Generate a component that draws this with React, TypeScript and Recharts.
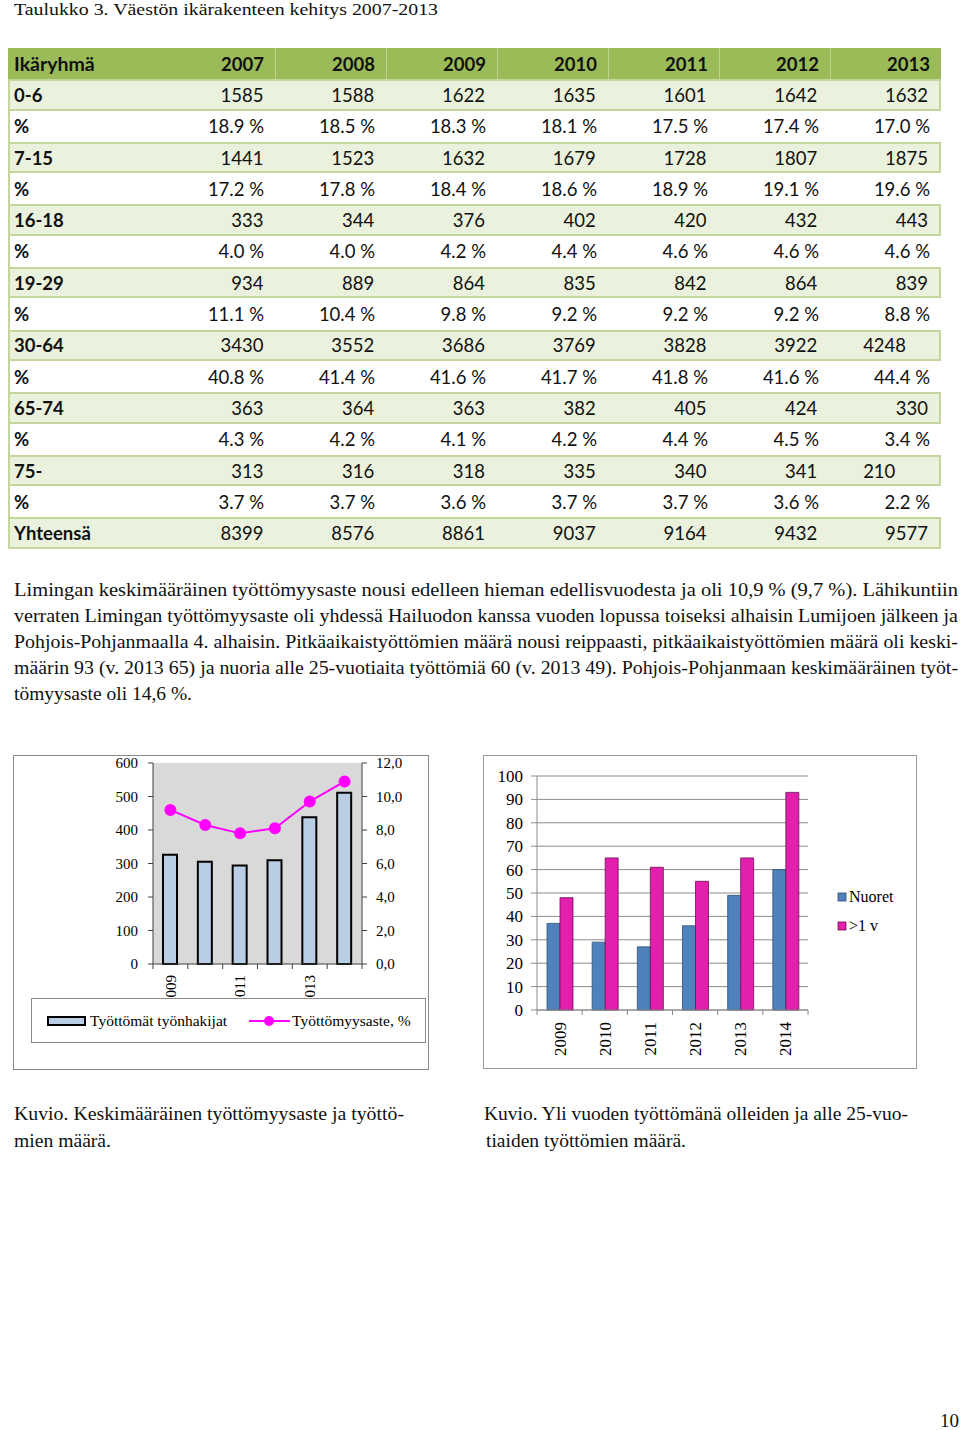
import React from 'react';
import { ComposedChart, BarChart, Bar, Line, XAxis, YAxis, CartesianGrid } from 'recharts';

// --- Taulukko 3 data ---
const TABLE_YEARS = ['2007', '2008', '2009', '2010', '2011', '2012', '2013'];
const AGE_GROUPS = ['0-6', '7-15', '16-18', '19-29', '30-64', '65-74', '75-'];
const COUNTS_0_6 = [1585, 1588, 1622, 1635, 1601, 1642, 1632];
const SHARE_0_6 = [18.9, 18.5, 18.3, 18.1, 17.5, 17.4, 17.0];
const COUNTS_7_15 = [1441, 1523, 1632, 1679, 1728, 1807, 1875];
const SHARE_7_15 = [17.2, 17.8, 18.4, 18.6, 18.9, 19.1, 19.6];
const COUNTS_16_18 = [333, 344, 376, 402, 420, 432, 443];
const SHARE_16_18 = [4.0, 4.0, 4.2, 4.4, 4.6, 4.6, 4.6];
const COUNTS_19_29 = [934, 889, 864, 835, 842, 864, 839];
const SHARE_19_29 = [11.1, 10.4, 9.8, 9.2, 9.2, 9.2, 8.8];
const COUNTS_30_64 = [3430, 3552, 3686, 3769, 3828, 3922, 4248];
const SHARE_30_64 = [40.8, 41.4, 41.6, 41.7, 41.8, 41.6, 44.4];
const COUNTS_65_74 = [363, 364, 363, 382, 405, 424, 330];
const SHARE_65_74 = [4.3, 4.2, 4.1, 4.2, 4.4, 4.5, 3.4];
const COUNTS_75 = [313, 316, 318, 335, 340, 341, 210];
const SHARE_75 = [3.7, 3.7, 3.6, 3.7, 3.7, 3.6, 2.2];
const TOTALS = [8399, 8576, 8861, 9037, 9164, 9432, 9577];

// --- chart 1: työttömät työnhakijat + työttömyysaste ---
const CHART_YEARS = ['2009', '2010', '2011', '2012', '2013', '2014'];
const JOBSEEKERS = [326, 305, 294, 310, 438, 511];
const UNEMPLOYMENT_RATE = [9.2, 8.3, 7.8, 8.1, 9.7, 10.9];

// --- chart 2: nuoret ja yli vuoden työttömät ---
const YOUNG = [37, 29, 27, 36, 49, 60];
const OVER_1Y = [48, 65, 61, 55, 65, 93];

const PARAGRAPH = [
  'Limingan keskimääräinen työttömyysaste nousi edelleen hieman edellisvuodesta ja oli 10,9 % (9,7 %). Lähikuntiin',
  'verraten Limingan työttömyysaste oli yhdessä Hailuodon kanssa vuoden lopussa toiseksi alhaisin Lumijoen jälkeen ja',
  'Pohjois-Pohjanmaalla 4. alhaisin.  Pitkäaikaistyöttömien määrä nousi reippaasti, pitkäaikaistyöttömien määrä oli keski-',
  'määrin 93 (v. 2013 65) ja nuoria alle 25-vuotiaita työttömiä 60 (v. 2013 49).  Pohjois-Pohjanmaan keskimääräinen työt-',
  'tömyysaste oli 14,6 %.',
];

const chart1Data = CHART_YEARS.map((year, i) => ({ year, seekers: JOBSEEKERS[i], rate: UNEMPLOYMENT_RATE[i] }));
const chart2Data = CHART_YEARS.map((year, i) => ({ year, young: YOUNG[i], long: OVER_1Y[i] }));

const SERIF = '"Liberation Serif", "Times New Roman", serif';
const ROW_H = 31.31;

const pct = (v: number) => `${v.toFixed(1)} %`;

type Row = { label: string; values: string[]; shaded: boolean; leftAlignLast?: boolean };

const groupCounts = [COUNTS_0_6, COUNTS_7_15, COUNTS_16_18, COUNTS_19_29, COUNTS_30_64, COUNTS_65_74, COUNTS_75];
const groupShares = [SHARE_0_6, SHARE_7_15, SHARE_16_18, SHARE_19_29, SHARE_30_64, SHARE_65_74, SHARE_75];

const tableRows: Row[] = [];
AGE_GROUPS.forEach((g, i) => {
  tableRows.push({ label: g, values: groupCounts[i].map(String), shaded: true, leftAlignLast: g === '30-64' || g === '75-' });
  tableRows.push({ label: '%', values: groupShares[i].map(pct), shaded: false });
});
tableRows.push({ label: 'Yhteensä', values: TOTALS.map(String), shaded: true });

const PopulationTable = () => (
  <div style={{ position: 'absolute', left: 8, top: 48, width: 933, fontFamily: 'Lato, sans-serif', fontSize: 18.5, color: '#111' }}>
    <div style={{ display: 'flex', height: ROW_H, background: '#9BBB59', fontWeight: 700, alignItems: 'center' }}>
      <div style={{ width: 156, paddingLeft: 6, boxSizing: 'border-box', fontSize: 19.5 }}>Ikäryhmä</div>
      {TABLE_YEARS.map((y, i) => (
        <div key={y} style={{ width: 111, height: '100%', display: 'flex', alignItems: 'center', justifyContent: 'flex-end', paddingRight: 11, boxSizing: 'border-box', borderLeft: i > 0 ? '1px solid rgba(255,255,255,0.35)' : 'none' }}>{y}</div>
      ))}
    </div>
    {tableRows.map((r, ri) => (
      <div key={ri} style={{
        display: 'flex', height: ROW_H, alignItems: 'center', boxSizing: 'border-box',
        background: r.shaded ? '#EAF1DD' : '#fff',
        borderTop: r.shaded ? '2px solid #C3D69B' : 'none',
        borderBottom: r.shaded ? '2px solid #C3D69B' : 'none',
        borderLeft: '2px solid #C3D69B', borderRight: r.shaded ? '2px solid #C3D69B' : 'none',
      }}>
        <div style={{ width: 154, paddingLeft: 4, fontWeight: 700, boxSizing: 'border-box' }}>{r.label}</div>
        {r.values.map((v, ci) => {
          const leftAlign = r.leftAlignLast && ci === 6;
          return (
            <div key={ci} style={{ width: 111, display: 'flex', justifyContent: leftAlign ? 'flex-start' : 'flex-end', paddingRight: 11, paddingLeft: leftAlign ? 35 : 0, boxSizing: 'border-box' }}>{v}</div>
          );
        })}
      </div>
    ))}
  </div>
);

const PageText = () => (
  <svg width={960} height={1430} style={{ position: 'absolute', left: 0, top: 0 }} fontFamily={SERIF} fill="#111">
    <text x={14} y={15} fontSize={17.5} textLength={424} lengthAdjust="spacingAndGlyphs">Taulukko 3.  Väestön ikärakenteen kehitys 2007-2013</text>
    {PARAGRAPH.map((line, i) => (
      <text key={i} x={14} y={596 + i * 26} fontSize={19} textLength={i === PARAGRAPH.length - 1 ? 178 : 944} lengthAdjust="spacingAndGlyphs">{line}</text>
    ))}
    <text x={14} y={1120} fontSize={19} textLength={390} lengthAdjust="spacingAndGlyphs">Kuvio.  Keskimääräinen työttömyysaste ja työttö-</text>
    <text x={14} y={1147} fontSize={19} textLength={97} lengthAdjust="spacingAndGlyphs">mien määrä.</text>
    <text x={484} y={1120} fontSize={19} textLength={424} lengthAdjust="spacingAndGlyphs">Kuvio. Yli vuoden työttömänä olleiden ja alle 25-vuo-</text>
    <text x={486} y={1147} fontSize={19} textLength={200} lengthAdjust="spacingAndGlyphs">tiaiden työttömien määrä.</text>
    <text x={940} y={1427} fontSize={19}>10</text>
  </svg>
);

// category ticks drawn between bars, label rotated like the original
const makeYearTick = (bandWidth: number, labelGap: number, fontSize: number, every: number, lineColor: string) => (props: any) => {
  const { x, y, payload, index } = props;
  const showLabel = index % every === 0;
  return (
    <g>
      <line x1={x - bandWidth / 2} y1={y} x2={x - bandWidth / 2} y2={y + 5} stroke={lineColor} />
      {index === CHART_YEARS.length - 1 && <line x1={x + bandWidth / 2} y1={y} x2={x + bandWidth / 2} y2={y + 5} stroke={lineColor} />}
      {showLabel && (
        <text x={x} y={y + labelGap} dy="0.35em" transform={`rotate(-90, ${x}, ${y + labelGap})`} textAnchor="end" fontSize={fontSize} fontFamily={SERIF} fill="#000">
          {payload.value}
        </text>
      )}
    </g>
  );
};

const tick1 = makeYearTick(209 / 6, 11, 15, 2, '#404040');
const tick2 = makeYearTick(271 / 6, 12, 17, 1, '#888');

const UnemploymentChart = () => (
  <div style={{ position: 'absolute', left: 13, top: 755, width: 414, height: 313, border: '1px solid #8a8a8a', background: '#fff' }}>
    <ComposedChart width={414} height={313} data={chart1Data} margin={{ top: 7, right: 26, bottom: 65, left: 99 }} barCategoryGap="28%">
      <CartesianGrid horizontal={false} vertical={false} fill="#D9D9D9" yAxisId="l" />
      <XAxis dataKey="year" height={40} interval={0} tickLine={false} tickSize={0} tickMargin={0} tick={tick1} axisLine={{ stroke: '#404040' }} />
      <YAxis yAxisId="l" width={40} domain={[0, 600]} ticks={[0, 100, 200, 300, 400, 500, 600]} interval={0} tickSize={5} tickMargin={10}
        axisLine={{ stroke: '#404040' }} tickLine={{ stroke: '#404040' }} tick={{ fontSize: 15, fontFamily: SERIF, fill: '#000' }} />
      <YAxis yAxisId="r" orientation="right" width={40} domain={[0, 12]} ticks={[0, 2, 4, 6, 8, 10, 12]} interval={0} tickSize={5} tickMargin={9}
        axisLine={{ stroke: '#404040' }} tickLine={{ stroke: '#404040' }} tick={{ fontSize: 15, fontFamily: SERIF, fill: '#000' }}
        tickFormatter={(v: number) => v.toFixed(1).replace('.', ',')} />
      <Bar yAxisId="l" dataKey="seekers" fill="#B9CDE5" stroke="#000" strokeWidth={2} barSize={14} isAnimationActive={false} />
      <Line yAxisId="r" dataKey="rate" type="linear" stroke="#FF00FF" strokeWidth={2}
        dot={{ r: 5, fill: '#FF00FF', stroke: '#FF00FF' }} isAnimationActive={false} />
    </ComposedChart>
    <div style={{ position: 'absolute', left: 17, top: 242, width: 395, height: 45, border: '1px solid #8a8a8a', background: '#fff', boxSizing: 'border-box' }}>
      <svg width={393} height={43} fontFamily={SERIF}>
        <rect x={16} y={18} width={37} height={8} fill="#B9CDE5" stroke="#000" strokeWidth={2} />
        <text x={58} y={27} fontSize={15.5} fill="#000">Työttömät työnhakijat</text>
        <line x1={217} y1={22} x2={258} y2={22} stroke="#FF00FF" strokeWidth={2} />
        <circle cx={237} cy={22} r={5} fill="#FF00FF" />
        <text x={260} y={27} fontSize={15.5} fill="#000">Työttömyysaste, %</text>
      </svg>
    </div>
  </div>
);

const LongTermChart = () => (
  <div style={{ position: 'absolute', left: 483, top: 755, width: 432, height: 312, border: '1px solid #9a9a9a', background: '#fff' }}>
    <BarChart width={432} height={312} data={chart2Data} margin={{ top: 20, right: 108, bottom: 8, left: 13 }} barGap={0}>
      <CartesianGrid horizontal vertical={false} stroke="#8c8c8c" />
      <XAxis dataKey="year" height={50} interval={0} tickLine={false} tickSize={0} tickMargin={0} tick={tick2} axisLine={{ stroke: '#8c8c8c' }} />
      <YAxis width={40} domain={[0, 100]} ticks={[0, 10, 20, 30, 40, 50, 60, 70, 80, 90, 100]} interval={0} tickSize={6} tickMargin={8}
        axisLine={{ stroke: '#8c8c8c' }} tickLine={{ stroke: '#8c8c8c' }} tick={{ fontSize: 17, fontFamily: SERIF, fill: '#000' }} />
      <Bar dataKey="young" fill="#4F81BD" stroke="#2f4f75" strokeWidth={0.8} barSize={13} isAnimationActive={false} />
      <Bar dataKey="long" fill="#E31FAE" stroke="#6a1050" strokeWidth={0.8} barSize={13} isAnimationActive={false} />
    </BarChart>
    <svg width={432} height={312} style={{ position: 'absolute', left: 0, top: 0 }} fontFamily={SERIF}>
      <rect x={354} y={137} width={8} height={8} fill="#4F81BD" stroke="#2f4f75" strokeWidth={0.8} />
      <text x={365} y={146} fontSize={16} fill="#000">Nuoret</text>
      <rect x={354} y={166} width={8} height={8} fill="#E31FAE" stroke="#6a1050" strokeWidth={0.8} />
      <text x={365} y={175} fontSize={16} fill="#000">&gt;1 v</text>
    </svg>
  </div>
);

export default function App() {
  return (
    <div style={{ position: 'absolute', left: 0, top: 0, width: 960, height: 1430, background: '#fff', overflow: 'hidden' }}>
      <PageText />
      <PopulationTable />
      <UnemploymentChart />
      <LongTermChart />
    </div>
  );
}
